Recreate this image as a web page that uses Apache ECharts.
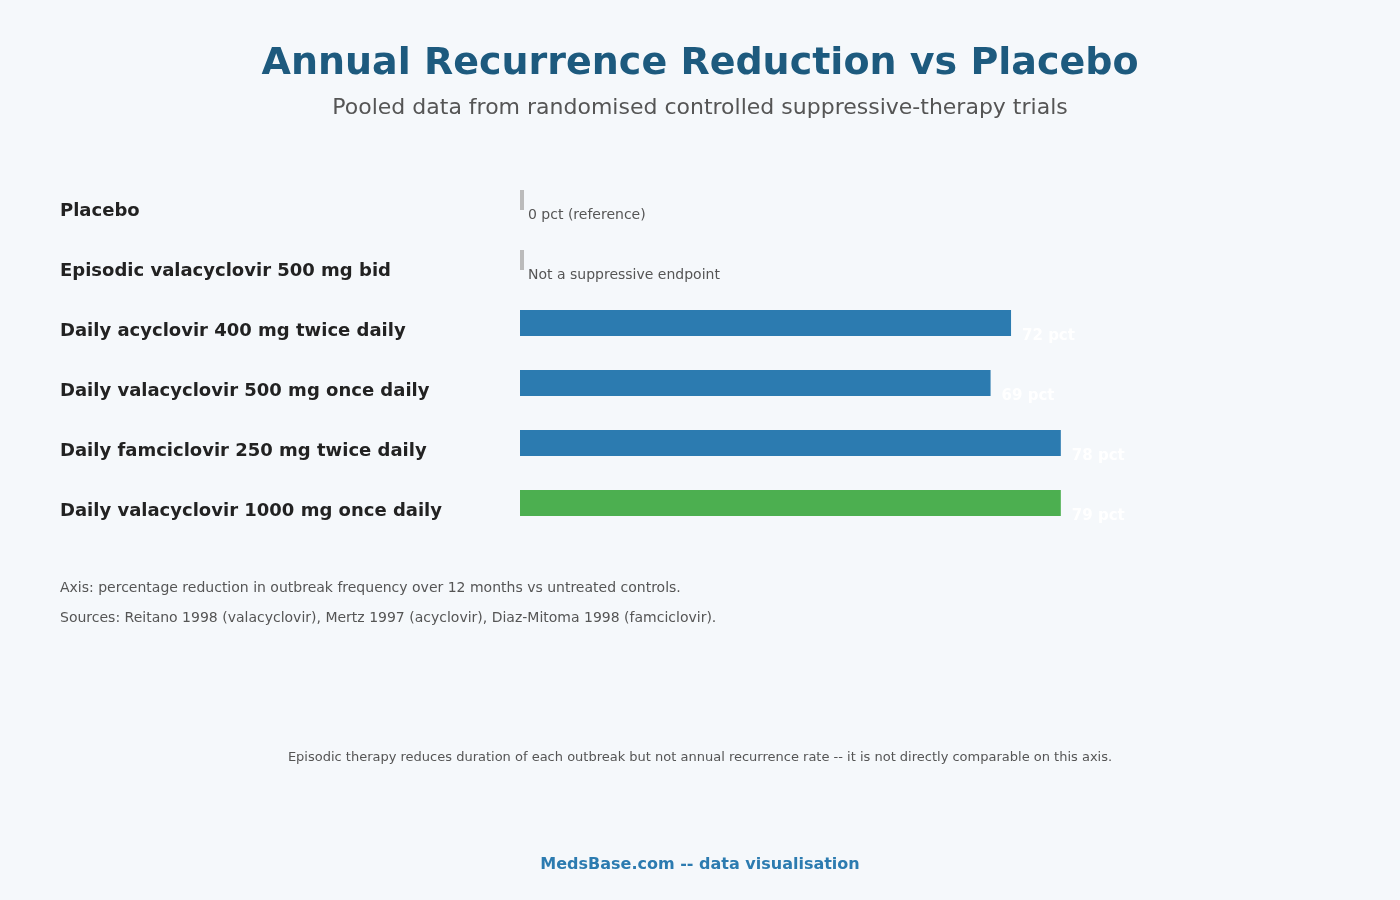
<!DOCTYPE html>
<html>
<head>
<meta charset="utf-8">
<title>Annual Recurrence Reduction vs Placebo</title>
<script src="https://cdn.jsdelivr.net/npm/echarts@6/dist/echarts.min.js"></script>
<style>
  html, body { margin: 0; padding: 0; background: #f5f8fb; }
  #main { width: 1400px; height: 900px; }
</style>
</head>
<body>
<div id="main"></div>
<script>
// regimens, top to bottom
const regimens = [
  "Placebo",
  "Episodic valacyclovir 500 mg bid",
  "Daily acyclovir 400 mg twice daily",
  "Daily valacyclovir 500 mg once daily",
  "Daily famciclovir 250 mg twice daily",
  "Daily valacyclovir 1000 mg once daily"
];
// reference rows (no suppressive reduction), drawn as thin grey markers
const referenceValues = [0, 0, null, null, null, null];
const referenceNotes = ["0 pct (reference)", "Not a suppressive endpoint", "", "", "", ""];
// percentage reduction as drawn by the bars
const reductionValues = [null, null, 72, 69, 79.3, 79.3];
const reductionLabels = ["", "", "72 pct", "69 pct", "78 pct", "79 pct"];
const highlightIndex = 5;

const myChart = echarts.init(document.getElementById("main"));

const font = "DejaVu Sans";

const option = {
  backgroundColor: "#f5f8fb",
  textStyle: { fontFamily: font },
  title: [
    {
      text: "Annual Recurrence Reduction vs Placebo",
      left: "center",
      top: 45,
      padding: 0,
      textStyle: { fontFamily: font, fontSize: 38, fontWeight: "bold", color: "#1d5a7e" }
    },
    {
      text: "Pooled data from randomised controlled suppressive-therapy trials",
      left: "center",
      top: 97,
      padding: 0,
      textStyle: { fontFamily: font, fontSize: 22, fontWeight: "normal", color: "#555555" }
    },
    {
      text: "Axis: percentage reduction in outbreak frequency over 12 months vs untreated controls.",
      left: 60,
      top: 581,
      padding: 0,
      textStyle: { fontFamily: font, fontSize: 14, fontWeight: "normal", color: "#555555" }
    },
    {
      text: "Sources: Reitano 1998 (valacyclovir), Mertz 1997 (acyclovir), Diaz-Mitoma 1998 (famciclovir).",
      left: 60,
      top: 611,
      padding: 0,
      textStyle: { fontFamily: font, fontSize: 14, fontWeight: "normal", color: "#555555" }
    },
    {
      text: "Episodic therapy reduces duration of each outbreak but not annual recurrence rate -- it is not directly comparable on this axis.",
      left: "center",
      top: 751,
      padding: 0,
      textStyle: { fontFamily: font, fontSize: 13, fontWeight: "normal", color: "#555555" }
    },
    {
      text: "MedsBase.com -- data visualisation",
      left: "center",
      top: 857,
      padding: 0,
      textStyle: { fontFamily: font, fontSize: 16, fontWeight: "bold", color: "#2c7bb0" }
    }
  ],
  grid: {
    left: 520,
    right: 198,
    top: 173,
    bottom: 367,
    containLabel: false
  },
  xAxis: {
    type: "value",
    min: 0,
    max: 100,
    show: false
  },
  yAxis: {
    type: "category",
    inverse: true,
    data: regimens,
    axisLine: { show: false },
    axisTick: { show: false },
    splitLine: { show: false },
    axisLabel: {
      align: "left",
      verticalAlign: "top",
      lineHeight: 16,
      margin: 460,
      fontSize: 18,
      fontWeight: "bold",
      color: "#222222"
    }
  },
  series: [
    {
      name: "Reference",
      type: "bar",
      data: referenceValues,
      barWidth: 20,
      barGap: "-100%",
      barMinHeight: 4,
      itemStyle: { color: "#bbbbbb" },
      label: {
        show: true,
        position: "right",
        distance: 4,
        offset: [0, 15],
        fontSize: 14,
        color: "#555555",
        formatter: (p) => referenceNotes[p.dataIndex]
      },
      silent: true
    },
    {
      name: "Reduction",
      type: "bar",
      data: reductionValues.map((v, i) => ({
        value: v,
        itemStyle: { color: i === highlightIndex ? "#4caf50" : "#2c7bb0" }
      })),
      barWidth: 26,
      barGap: "-100%",
      label: {
        show: true,
        position: "right",
        distance: 11,
        offset: [0, 13],
        fontSize: 15,
        fontWeight: "bold",
        color: "#ffffff",
        formatter: (p) => reductionLabels[p.dataIndex]
      },
      silent: true
    }
  ]
};

myChart.setOption(option);
</script>
</body>
</html>
